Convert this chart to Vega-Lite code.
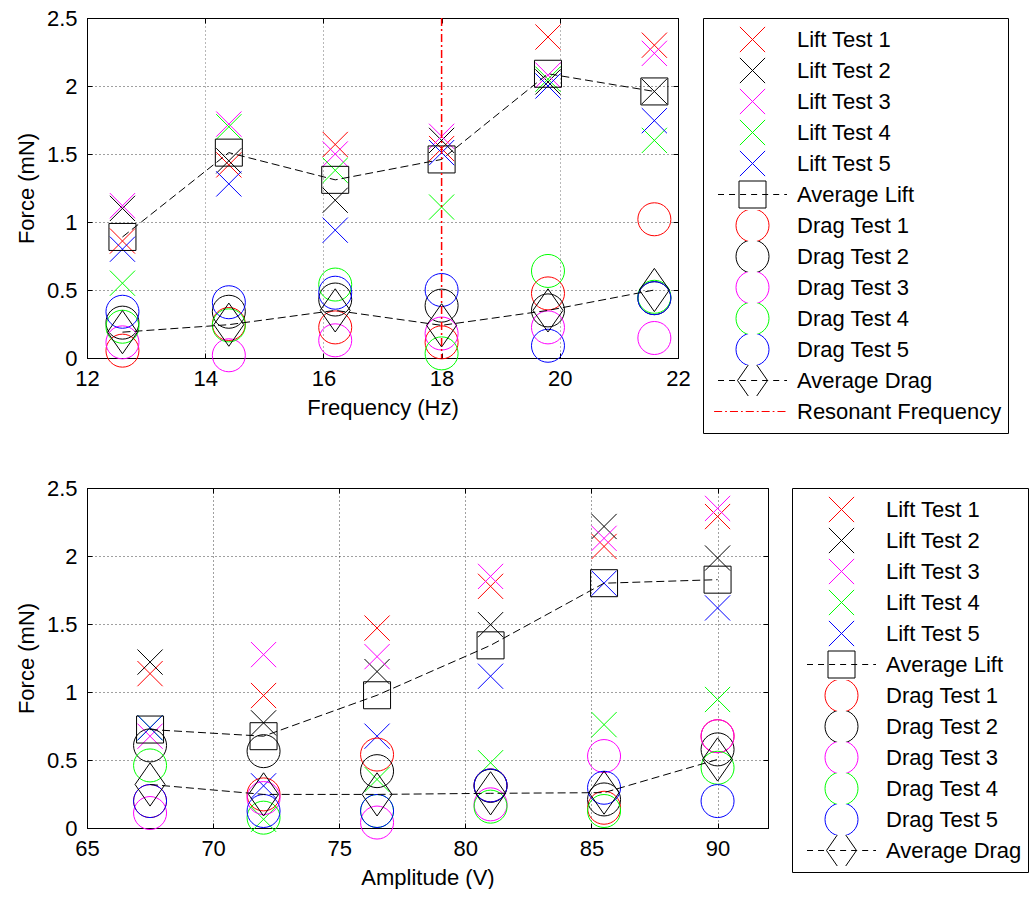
{
  "$schema": "https://vega.github.io/schema/vega-lite/v6.json",
  "padding": {"left": 14, "top": 6, "right": 0, "bottom": 0},
  "background": "white",
  "spacing": 42,
  "resolve": {"scale": {"color": "independent", "shape": "independent"}, "legend": {"color": "independent", "shape": "independent"}},
  "config": {
    "font": "Liberation Sans",
    "view": {"stroke": "black", "strokeWidth": 1},
    "axis": {
      "labelFont": "Liberation Sans", "labelFontSize": 22, "labelColor": "black",
      "titleFont": "Liberation Sans", "titleFontSize": 22, "titleFontWeight": "normal", "titleColor": "black",
      "domainColor": "black", "tickColor": "black", "tickSize": -5, "labelPadding": 15,
      "gridColor": "#000000", "gridOpacity": 0.75, "gridDash": [1, 3],
      "labelFlush": false, "labelOverlap": false, "titlePadding": 8, "format": "~g"
    },
    "legend": {
      "orient": "right", "padding": 6, "strokeColor": "black", "fillColor": "white",
      "labelFont": "Liberation Sans", "labelFontSize": 22, "labelColor": "black", "labelLimit": 400,
      "symbolSize": 576, "symbolStrokeWidth": 1, "clipHeight": 31, "rowPadding": 0,
      "symbolOffset": 31, "labelOffset": 32
    }
  },
  "datasets": {
    "freq": [
      {"series": "Lift Test 1", "frequency": 12.6, "force": 0.86}, {"series": "Lift Test 1", "frequency": 14.4, "force": 1.42}, {"series": "Lift Test 1", "frequency": 16.2, "force": 1.57}, {"series": "Lift Test 1", "frequency": 18, "force": 1.54}, {"series": "Lift Test 1", "frequency": 19.8, "force": 2.36}, {"series": "Lift Test 1", "frequency": 21.6, "force": 2.3},
      {"series": "Lift Test 2", "frequency": 12.6, "force": 1.1}, {"series": "Lift Test 2", "frequency": 14.4, "force": 1.45}, {"series": "Lift Test 2", "frequency": 16.2, "force": 1.16}, {"series": "Lift Test 2", "frequency": 18, "force": 1.6}, {"series": "Lift Test 2", "frequency": 19.8, "force": 2.03}, {"series": "Lift Test 2", "frequency": 21.6, "force": 1.96},
      {"series": "Lift Test 3", "frequency": 12.6, "force": 1.12}, {"series": "Lift Test 3", "frequency": 14.4, "force": 1.72}, {"series": "Lift Test 3", "frequency": 16.2, "force": 1.5}, {"series": "Lift Test 3", "frequency": 18, "force": 1.63}, {"series": "Lift Test 3", "frequency": 19.8, "force": 2.08}, {"series": "Lift Test 3", "frequency": 21.6, "force": 2.24},
      {"series": "Lift Test 4", "frequency": 12.6, "force": 0.55}, {"series": "Lift Test 4", "frequency": 14.4, "force": 1.7}, {"series": "Lift Test 4", "frequency": 16.2, "force": 1.38}, {"series": "Lift Test 4", "frequency": 18, "force": 1.11}, {"series": "Lift Test 4", "frequency": 19.8, "force": 2.05}, {"series": "Lift Test 4", "frequency": 21.6, "force": 1.6},
      {"series": "Lift Test 5", "frequency": 12.6, "force": 0.8}, {"series": "Lift Test 5", "frequency": 14.4, "force": 1.28}, {"series": "Lift Test 5", "frequency": 16.2, "force": 0.94}, {"series": "Lift Test 5", "frequency": 18, "force": 1.51}, {"series": "Lift Test 5", "frequency": 19.8, "force": 2.0}, {"series": "Lift Test 5", "frequency": 21.6, "force": 1.745},
      {"series": "Average Lift", "frequency": 12.6, "force": 0.89}, {"series": "Average Lift", "frequency": 14.4, "force": 1.51}, {"series": "Average Lift", "frequency": 16.2, "force": 1.31}, {"series": "Average Lift", "frequency": 18, "force": 1.46}, {"series": "Average Lift", "frequency": 19.8, "force": 2.09}, {"series": "Average Lift", "frequency": 21.6, "force": 1.96},
      {"series": "Drag Test 1", "frequency": 12.6, "force": 0.054}, {"series": "Drag Test 1", "frequency": 14.4, "force": 0.25}, {"series": "Drag Test 1", "frequency": 16.2, "force": 0.225}, {"series": "Drag Test 1", "frequency": 18, "force": 0.115}, {"series": "Drag Test 1", "frequency": 19.8, "force": 0.475}, {"series": "Drag Test 1", "frequency": 21.6, "force": 1.02},
      {"series": "Drag Test 2", "frequency": 12.6, "force": 0.26}, {"series": "Drag Test 2", "frequency": 14.4, "force": 0.34}, {"series": "Drag Test 2", "frequency": 16.2, "force": 0.43}, {"series": "Drag Test 2", "frequency": 18, "force": 0.385}, {"series": "Drag Test 2", "frequency": 19.8, "force": 0.35}, {"series": "Drag Test 2", "frequency": 21.6, "force": 0.44},
      {"series": "Drag Test 3", "frequency": 12.6, "force": 0.115}, {"series": "Drag Test 3", "frequency": 14.4, "force": 0.02}, {"series": "Drag Test 3", "frequency": 16.2, "force": 0.13}, {"series": "Drag Test 3", "frequency": 18, "force": 0.18}, {"series": "Drag Test 3", "frequency": 19.8, "force": 0.225}, {"series": "Drag Test 3", "frequency": 21.6, "force": 0.147},
      {"series": "Drag Test 4", "frequency": 12.6, "force": 0.23}, {"series": "Drag Test 4", "frequency": 14.4, "force": 0.24}, {"series": "Drag Test 4", "frequency": 16.2, "force": 0.54}, {"series": "Drag Test 4", "frequency": 18, "force": 0.034}, {"series": "Drag Test 4", "frequency": 19.8, "force": 0.64}, {"series": "Drag Test 4", "frequency": 21.6, "force": 0.45},
      {"series": "Drag Test 5", "frequency": 12.6, "force": 0.34}, {"series": "Drag Test 5", "frequency": 14.4, "force": 0.41}, {"series": "Drag Test 5", "frequency": 16.2, "force": 0.48}, {"series": "Drag Test 5", "frequency": 18, "force": 0.5}, {"series": "Drag Test 5", "frequency": 19.8, "force": 0.09}, {"series": "Drag Test 5", "frequency": 21.6, "force": 0.44},
      {"series": "Average Drag", "frequency": 12.6, "force": 0.19}, {"series": "Average Drag", "frequency": 14.4, "force": 0.245}, {"series": "Average Drag", "frequency": 16.2, "force": 0.35}, {"series": "Average Drag", "frequency": 18, "force": 0.24}, {"series": "Average Drag", "frequency": 19.8, "force": 0.35}, {"series": "Average Drag", "frequency": 21.6, "force": 0.5},
      {"series": "Resonant Frequency", "frequency": 18}
    ],
    "amp": [
      {"series": "Lift Test 1", "amplitude": 67.5, "force": 1.135}, {"series": "Lift Test 1", "amplitude": 72, "force": 0.974}, {"series": "Lift Test 1", "amplitude": 76.5, "force": 1.47}, {"series": "Lift Test 1", "amplitude": 81, "force": 1.777}, {"series": "Lift Test 1", "amplitude": 85.5, "force": 2.07}, {"series": "Lift Test 1", "amplitude": 90, "force": 2.29},
      {"series": "Lift Test 2", "amplitude": 67.5, "force": 1.22}, {"series": "Lift Test 2", "amplitude": 72, "force": 0.773}, {"series": "Lift Test 2", "amplitude": 76.5, "force": 1.15}, {"series": "Lift Test 2", "amplitude": 81, "force": 1.495}, {"series": "Lift Test 2", "amplitude": 85.5, "force": 2.217}, {"series": "Lift Test 2", "amplitude": 90, "force": 1.985},
      {"series": "Lift Test 3", "amplitude": 67.5, "force": 0.675}, {"series": "Lift Test 3", "amplitude": 72, "force": 1.275}, {"series": "Lift Test 3", "amplitude": 76.5, "force": 1.26}, {"series": "Lift Test 3", "amplitude": 81, "force": 1.85}, {"series": "Lift Test 3", "amplitude": 85.5, "force": 2.13}, {"series": "Lift Test 3", "amplitude": 90, "force": 2.35},
      {"series": "Lift Test 4", "amplitude": 67.5, "force": 0.737}, {"series": "Lift Test 4", "amplitude": 72, "force": 0.064}, {"series": "Lift Test 4", "amplitude": 76.5, "force": 0.357}, {"series": "Lift Test 4", "amplitude": 81, "force": 0.48}, {"series": "Lift Test 4", "amplitude": 85.5, "force": 0.76}, {"series": "Lift Test 4", "amplitude": 90, "force": 0.945},
      {"series": "Lift Test 5", "amplitude": 67.5, "force": 0.737}, {"series": "Lift Test 5", "amplitude": 72, "force": 0.31}, {"series": "Lift Test 5", "amplitude": 76.5, "force": 0.675}, {"series": "Lift Test 5", "amplitude": 81, "force": 1.116}, {"series": "Lift Test 5", "amplitude": 85.5, "force": 1.8}, {"series": "Lift Test 5", "amplitude": 90, "force": 1.618},
      {"series": "Average Lift", "amplitude": 67.5, "force": 0.724}, {"series": "Average Lift", "amplitude": 72, "force": 0.675}, {"series": "Average Lift", "amplitude": 76.5, "force": 0.976}, {"series": "Average Lift", "amplitude": 81, "force": 1.343}, {"series": "Average Lift", "amplitude": 85.5, "force": 1.8}, {"series": "Average Lift", "amplitude": 90, "force": 1.826},
      {"series": "Drag Test 1", "amplitude": 67.5, "force": 0.198}, {"series": "Drag Test 1", "amplitude": 72, "force": 0.247}, {"series": "Drag Test 1", "amplitude": 76.5, "force": 0.54}, {"series": "Drag Test 1", "amplitude": 81, "force": 0.313}, {"series": "Drag Test 1", "amplitude": 85.5, "force": 0.149}, {"series": "Drag Test 1", "amplitude": 90, "force": 0.675},
      {"series": "Drag Test 2", "amplitude": 67.5, "force": 0.607}, {"series": "Drag Test 2", "amplitude": 72, "force": 0.565}, {"series": "Drag Test 2", "amplitude": 76.5, "force": 0.418}, {"series": "Drag Test 2", "amplitude": 81, "force": 0.31}, {"series": "Drag Test 2", "amplitude": 85.5, "force": 0.21}, {"series": "Drag Test 2", "amplitude": 90, "force": 0.578},
      {"series": "Drag Test 3", "amplitude": 67.5, "force": 0.11}, {"series": "Drag Test 3", "amplitude": 72, "force": 0.22}, {"series": "Drag Test 3", "amplitude": 76.5, "force": 0.04}, {"series": "Drag Test 3", "amplitude": 81, "force": 0.174}, {"series": "Drag Test 3", "amplitude": 85.5, "force": 0.529}, {"series": "Drag Test 3", "amplitude": 90, "force": 0.675},
      {"series": "Drag Test 4", "amplitude": 67.5, "force": 0.46}, {"series": "Drag Test 4", "amplitude": 72, "force": 0.076}, {"series": "Drag Test 4", "amplitude": 76.5, "force": 0.125}, {"series": "Drag Test 4", "amplitude": 81, "force": 0.157}, {"series": "Drag Test 4", "amplitude": 85.5, "force": 0.125}, {"series": "Drag Test 4", "amplitude": 90, "force": 0.443},
      {"series": "Drag Test 5", "amplitude": 67.5, "force": 0.198}, {"series": "Drag Test 5", "amplitude": 72, "force": 0.125}, {"series": "Drag Test 5", "amplitude": 76.5, "force": 0.125}, {"series": "Drag Test 5", "amplitude": 81, "force": 0.313}, {"series": "Drag Test 5", "amplitude": 85.5, "force": 0.296}, {"series": "Drag Test 5", "amplitude": 90, "force": 0.198},
      {"series": "Average Drag", "amplitude": 67.5, "force": 0.32}, {"series": "Average Drag", "amplitude": 72, "force": 0.247}, {"series": "Average Drag", "amplitude": 76.5, "force": 0.247}, {"series": "Average Drag", "amplitude": 81, "force": 0.255}, {"series": "Average Drag", "amplitude": 85.5, "force": 0.26}, {"series": "Average Drag", "amplitude": 90, "force": 0.504}
    ]
  },
  "vconcat": [
    {
      "width": 591, "height": 340,
      "data": {"name": "freq"},
      "resolve": {"axis": {"x": "independent", "y": "independent"}},
      "layer": [
        {
          "transform": [{"filter": "indexof(datum.series, 'Test') >= 0"}],
          "mark": {"type": "point", "filled": false, "opacity": 1, "size": 576, "strokeWidth": 1},
          "encoding": {
            "x": {"field": "frequency", "type": "quantitative", "scale": {"domain": [12, 22], "nice": false, "zero": false}, "axis": {"title": "Frequency (Hz)", "values": [12, 14, 16, 18, 20, 22], "grid": true, "gridOpacity": {"condition": {"test": "datum.value === 18", "value": 0}, "value": 0.75}}},
            "y": {"field": "force", "type": "quantitative", "scale": {"domain": [0, 2.5], "nice": false}, "axis": {"title": "Force (mN)", "values": [0, 0.5, 1, 1.5, 2, 2.5], "grid": true}},
            "color": {"field": "series", "type": "nominal", "legend": {"title": null, "offset": 24},
              "scale": {"domain": ["Lift Test 1", "Lift Test 2", "Lift Test 3", "Lift Test 4", "Lift Test 5", "Average Lift", "Drag Test 1", "Drag Test 2", "Drag Test 3", "Drag Test 4", "Drag Test 5", "Average Drag", "Resonant Frequency"],
                "range": ["#ff0000", "#000000", "#ff00ff", "#00ff00", "#0000ff", "#000000", "#ff0000", "#000000", "#ff00ff", "#00ff00", "#0000ff", "#000000", "#ff0000"]}},
            "shape": {"field": "series", "type": "nominal", "legend": {"title": null, "offset": 24},
              "scale": {"domain": ["Lift Test 1", "Lift Test 2", "Lift Test 3", "Lift Test 4", "Lift Test 5", "Average Lift", "Drag Test 1", "Drag Test 2", "Drag Test 3", "Drag Test 4", "Drag Test 5", "Average Drag", "Resonant Frequency"],
                "range": [
                  "M-1.05,-1.05L1.05,1.05M-1.05,1.05L1.05,-1.05", "M-1.05,-1.05L1.05,1.05M-1.05,1.05L1.05,-1.05", "M-1.05,-1.05L1.05,1.05M-1.05,1.05L1.05,-1.05", "M-1.05,-1.05L1.05,1.05M-1.05,1.05L1.05,-1.05", "M-1.05,-1.05L1.05,1.05M-1.05,1.05L1.05,-1.05",
                  "M-1.125,-1.125H1.125V1.125H-1.125ZM-2.875,0H-2.375M-1.955,0H-1.455M-1.035,0H-0.535M-0.115,0H0.385M0.805,0H1.305M1.725,0H2.225M2.645,0H2.875",
                  "M-1.375,0A1.375,1.375,0,1,1,1.375,0A1.375,1.375,0,1,1,-1.375,0Z", "M-1.375,0A1.375,1.375,0,1,1,1.375,0A1.375,1.375,0,1,1,-1.375,0Z", "M-1.375,0A1.375,1.375,0,1,1,1.375,0A1.375,1.375,0,1,1,-1.375,0Z", "M-1.375,0A1.375,1.375,0,1,1,1.375,0A1.375,1.375,0,1,1,-1.375,0Z", "M-1.375,0A1.375,1.375,0,1,1,1.375,0A1.375,1.375,0,1,1,-1.375,0Z",
                  "M0,-1.8L1.25,0L0,1.8L-1.25,0ZM-2.875,0H-2.375M-1.955,0H-1.455M-1.035,0H-0.535M-0.115,0H0.385M0.805,0H1.305M1.725,0H2.225M2.645,0H2.875",
                  "M-3.2,0H-2.53M-2.28,0H-2.13M-1.88,0H-1.21M-0.96,0H-0.81M-0.56,0H0.11M0.36,0H0.51M0.76,0H1.43M1.68,0H1.83M2.08,0H2.75"
                ]}}
          }
        },
        {
          "transform": [{"filter": "datum.series === 'Average Lift'"}],
          "mark": {"type": "line", "color": "black", "strokeWidth": 1, "strokeDash": [8, 4]},
          "encoding": {
            "x": {"field": "frequency", "type": "quantitative", "axis": null},
            "y": {"field": "force", "type": "quantitative", "axis": null}
          }
        },
        {
          "transform": [{"filter": "datum.series === 'Average Lift'"}],
          "mark": {"type": "point", "shape": "square", "size": 729, "filled": false, "opacity": 1, "color": "black", "strokeWidth": 1},
          "encoding": {
            "x": {"field": "frequency", "type": "quantitative", "axis": {"orient": "top", "labels": false, "grid": false, "title": null, "domain": false, "values": [12, 14, 16, 18, 20, 22]}},
            "y": {"field": "force", "type": "quantitative", "axis": {"orient": "right", "labels": false, "grid": false, "title": null, "domain": false, "values": [0, 0.5, 1, 1.5, 2, 2.5]}}
          }
        },
        {
          "transform": [{"filter": "datum.series === 'Average Drag'"}],
          "mark": {"type": "line", "color": "black", "strokeWidth": 1, "strokeDash": [8, 4]},
          "encoding": {
            "x": {"field": "frequency", "type": "quantitative", "axis": null},
            "y": {"field": "force", "type": "quantitative", "axis": null}
          }
        },
        {
          "transform": [{"filter": "datum.series === 'Average Drag'"}],
          "mark": {"type": "point", "shape": "M0,-1.8L1.25,0L0,1.8L-1.25,0Z", "size": 576, "filled": false, "opacity": 1, "color": "black", "strokeWidth": 1},
          "encoding": {
            "x": {"field": "frequency", "type": "quantitative", "axis": null},
            "y": {"field": "force", "type": "quantitative", "axis": null}
          }
        },
        {
          "transform": [{"filter": "datum.series === 'Resonant Frequency'"}],
          "mark": {"type": "rule", "color": "#ff0000", "strokeWidth": 1.5, "strokeDash": [8, 3, 2, 3]},
          "encoding": {
            "x": {"field": "frequency", "type": "quantitative", "axis": null}
          }
        }
      ]
    },
    {
      "width": 681, "height": 340,
      "data": {"name": "amp"},
      "resolve": {"axis": {"x": "independent", "y": "independent"}},
      "layer": [
        {
          "transform": [{"filter": "indexof(datum.series, 'Test') >= 0"}],
          "mark": {"type": "point", "filled": false, "opacity": 1, "size": 576, "strokeWidth": 1},
          "encoding": {
            "x": {"field": "amplitude", "type": "quantitative", "scale": {"domain": [65, 92], "nice": false, "zero": false}, "axis": {"title": "Amplitude (V)", "values": [65, 70, 75, 80, 85, 90], "grid": true}},
            "y": {"field": "force", "type": "quantitative", "scale": {"domain": [0, 2.5], "nice": false}, "axis": {"title": "Force (mN)", "values": [0, 0.5, 1, 1.5, 2, 2.5], "grid": true}},
            "color": {"field": "series", "type": "nominal", "legend": {"title": null, "offset": 23},
              "scale": {"domain": ["Lift Test 1", "Lift Test 2", "Lift Test 3", "Lift Test 4", "Lift Test 5", "Average Lift", "Drag Test 1", "Drag Test 2", "Drag Test 3", "Drag Test 4", "Drag Test 5", "Average Drag"],
                "range": ["#ff0000", "#000000", "#ff00ff", "#00ff00", "#0000ff", "#000000", "#ff0000", "#000000", "#ff00ff", "#00ff00", "#0000ff", "#000000"]}},
            "shape": {"field": "series", "type": "nominal", "legend": {"title": null, "offset": 23},
              "scale": {"domain": ["Lift Test 1", "Lift Test 2", "Lift Test 3", "Lift Test 4", "Lift Test 5", "Average Lift", "Drag Test 1", "Drag Test 2", "Drag Test 3", "Drag Test 4", "Drag Test 5", "Average Drag"],
                "range": [
                  "M-1.05,-1.05L1.05,1.05M-1.05,1.05L1.05,-1.05", "M-1.05,-1.05L1.05,1.05M-1.05,1.05L1.05,-1.05", "M-1.05,-1.05L1.05,1.05M-1.05,1.05L1.05,-1.05", "M-1.05,-1.05L1.05,1.05M-1.05,1.05L1.05,-1.05", "M-1.05,-1.05L1.05,1.05M-1.05,1.05L1.05,-1.05",
                  "M-1.125,-1.125H1.125V1.125H-1.125ZM-2.875,0H-2.375M-1.955,0H-1.455M-1.035,0H-0.535M-0.115,0H0.385M0.805,0H1.305M1.725,0H2.225M2.645,0H2.875",
                  "M-1.375,0A1.375,1.375,0,1,1,1.375,0A1.375,1.375,0,1,1,-1.375,0Z", "M-1.375,0A1.375,1.375,0,1,1,1.375,0A1.375,1.375,0,1,1,-1.375,0Z", "M-1.375,0A1.375,1.375,0,1,1,1.375,0A1.375,1.375,0,1,1,-1.375,0Z", "M-1.375,0A1.375,1.375,0,1,1,1.375,0A1.375,1.375,0,1,1,-1.375,0Z", "M-1.375,0A1.375,1.375,0,1,1,1.375,0A1.375,1.375,0,1,1,-1.375,0Z",
                  "M0,-1.8L1.25,0L0,1.8L-1.25,0ZM-2.875,0H-2.375M-1.955,0H-1.455M-1.035,0H-0.535M-0.115,0H0.385M0.805,0H1.305M1.725,0H2.225M2.645,0H2.875"
                ]}}
          }
        },
        {
          "transform": [{"filter": "datum.series === 'Average Lift'"}],
          "mark": {"type": "line", "color": "black", "strokeWidth": 1, "strokeDash": [8, 4]},
          "encoding": {
            "x": {"field": "amplitude", "type": "quantitative", "axis": null},
            "y": {"field": "force", "type": "quantitative", "axis": null}
          }
        },
        {
          "transform": [{"filter": "datum.series === 'Average Lift'"}],
          "mark": {"type": "point", "shape": "square", "size": 729, "filled": false, "opacity": 1, "color": "black", "strokeWidth": 1},
          "encoding": {
            "x": {"field": "amplitude", "type": "quantitative", "axis": {"orient": "top", "labels": false, "grid": false, "title": null, "domain": false, "values": [65, 70, 75, 80, 85, 90]}},
            "y": {"field": "force", "type": "quantitative", "axis": {"orient": "right", "labels": false, "grid": false, "title": null, "domain": false, "values": [0, 0.5, 1, 1.5, 2, 2.5]}}
          }
        },
        {
          "transform": [{"filter": "datum.series === 'Average Drag'"}],
          "mark": {"type": "line", "color": "black", "strokeWidth": 1, "strokeDash": [8, 4]},
          "encoding": {
            "x": {"field": "amplitude", "type": "quantitative", "axis": null},
            "y": {"field": "force", "type": "quantitative", "axis": null}
          }
        },
        {
          "transform": [{"filter": "datum.series === 'Average Drag'"}],
          "mark": {"type": "point", "shape": "M0,-1.8L1.25,0L0,1.8L-1.25,0Z", "size": 576, "filled": false, "opacity": 1, "color": "black", "strokeWidth": 1},
          "encoding": {
            "x": {"field": "amplitude", "type": "quantitative", "axis": null},
            "y": {"field": "force", "type": "quantitative", "axis": null}
          }
        }
      ]
    }
  ]
}
